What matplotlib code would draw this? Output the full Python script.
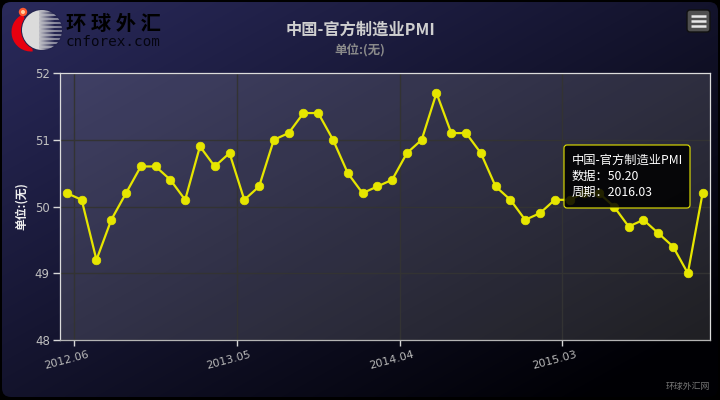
import numpy as np
import matplotlib
matplotlib.use("Agg")
import matplotlib.pyplot as plt
from matplotlib.patches import FancyBboxPatch, Circle, Wedge

plt.rcParams['font.family'] = ['Noto Sans CJK SC', 'DejaVu Sans']

title = "中国-官方制造业PMI"
unit_label = "单位:(无)"
periods = ["2012.06", "2012.07", "2012.08", "2012.09", "2012.10", "2012.11", "2012.12", "2013.01",
           "2013.02", "2013.03", "2013.04", "2013.05", "2013.06", "2013.07", "2013.08", "2013.09",
           "2013.10", "2013.11", "2013.12", "2014.01", "2014.02", "2014.03", "2014.04", "2014.05",
           "2014.06", "2014.07", "2014.08", "2014.09", "2014.10", "2014.11", "2014.12", "2015.01",
           "2015.02", "2015.03", "2015.04", "2015.05", "2015.06", "2015.07", "2015.08", "2015.09",
           "2015.10", "2015.12", "2016.02", "2016.03"]
pmi = [50.2, 50.1, 49.2, 49.8, 50.2, 50.6, 50.6, 50.4, 50.1, 50.9, 50.6, 50.8, 50.1, 50.3, 51.0, 51.1,
       51.4, 51.4, 51.0, 50.5, 50.2, 50.3, 50.4, 50.8, 51.0, 51.7, 51.1, 51.1, 50.8, 50.3, 50.1, 49.8,
       49.9, 50.1, 50.1, 50.2, 50.2, 50.0, 49.7, 49.8, 49.6, 49.4, 49.0, 50.2]
y_ticks = [48, 49, 50, 51, 52]
tick_every = 11
tooltip_lines = ["中国-官方制造业PMI", "数据：50.20", "周期：2016.03"]

W, H = 720, 400
fig = plt.figure(figsize=(7.2, 4.0), dpi=100, facecolor="black")

# background layer in pixel coordinates
bg = fig.add_axes([0, 0, 1, 1], zorder=0)
bg.set_xlim(0, W); bg.set_ylim(H, 0); bg.axis("off")

yy, xx = np.mgrid[0:1:200j, 0:1:360j]
t = np.clip(xx * 0.55 + yy * 0.55, 0, 1)[..., None]
start = np.array([42, 42, 92]) / 255
end = np.array([0, 0, 4]) / 255
grad = start * (1 - t) + end * t
im = bg.imshow(grad, extent=(0, W, H, 0), aspect="auto", zorder=1, interpolation="bilinear")
clip = FancyBboxPatch((2, 2), 716, 395, boxstyle="round,pad=0,rounding_size=9",
                      transform=bg.transData, fc="none", ec="none")
bg.add_patch(clip)
im.set_clip_path(clip)

# plot area sheen
L, R, T, B = 59.5, 710, 73, 340
sheen = np.zeros((80, 200, 4))
sheen[..., :3] = 1
sheen[..., 3] = 0.13
bg.imshow(sheen, extent=(L, R, B, T), aspect="auto", zorder=2)
bg.set_xlim(0, W); bg.set_ylim(H, 0)

# logo
bg.add_patch(Wedge((31, 32), 19.5, 85, 245, width=19.5, fc="#e8000f", ec="none", zorder=3))
bg.add_patch(Circle((42, 30), 21, fc="#23234f", ec="none", zorder=3))
gy, gx = np.mgrid[0:1:20j, 0:1:40j]
logo = np.ones((20, 40, 4))
logo[..., :3] = 0.86
stripes = (np.arange(20) % 2 == 0)[:, None]
logo[..., 3] = np.where(gx < 0.42, 1, np.where(stripes, 0.85 - (gx - 0.42) * 0.7, 0.9 - (gx - 0.42) * 2.2).clip(0, 1))
logo_im = bg.imshow(logo, extent=(22, 62, 50, 10), aspect="auto", zorder=4, interpolation="nearest")
lc = Circle((42, 30), 20, transform=bg.transData, fc="none", ec="none")
bg.add_patch(lc)
logo_im.set_clip_path(lc)
bg.add_patch(Circle((23, 12), 4.2, fc="#ff5a30", ec="none", zorder=5))
bg.add_patch(Circle((23, 12), 2, fc="#ffd0a0", ec="none", zorder=6))
bg.set_xlim(0, W); bg.set_ylim(H, 0)
bg.text(66, 23, "环 球 外 汇", color="black", fontsize=14.6, fontweight="bold", va="center", ha="left", zorder=6,
        fontfamily=["Noto Sans CJK SC", "DejaVu Sans"])
bg.text(66, 42, "cnforex.com", color="#050510", fontsize=10.4, va="center", ha="left", zorder=6,
        fontfamily="DejaVu Sans Mono")

# titles
bg.text(360, 29.5, title, color="#cfcfcf", fontsize=11.7, fontweight="bold", ha="center", va="center", zorder=6)
bg.text(360, 50.5, unit_label, color="#8a8a8a", fontsize=9, fontweight="bold", ha="center", va="center", zorder=6)
bg.text(688, 386, "环球外汇网", color="#777777", fontsize=6.4, ha="center", va="center", zorder=6)

# main plot
ax = fig.add_axes([L / W, 1 - B / H, (R - L) / W, (B - T) / H], zorder=1)
ax.patch.set_alpha(0)
x = np.arange(len(pmi))
ax.plot(x, pmi, color="#e6e600", lw=1.6, marker="o", ms=6.2, mec="#e6e600", mew=0.5, zorder=3, clip_on=False)
ax.set_xlim(-0.5, len(pmi) - 0.5)
ax.set_ylim(48, 52)
ax.set_yticks(y_ticks)
ax.set_yticklabels([str(v) for v in y_ticks], color="#c0c0c0", fontsize=8.5, fontfamily="DejaVu Sans")
tick_idx = x[::tick_every][:4]
ax.set_xticks(tick_idx + 0.5)
ax.set_xticklabels([])
for i in tick_idx:
    ax.annotate(periods[i], xy=(i + 0.5, 0), xycoords=ax.get_xaxis_transform(),
                xytext=(-5.8, -14.4), textcoords="offset points",
                rotation=15, ha="center", va="center", rotation_mode="anchor",
                color="#b8b8b8", fontsize=8, fontfamily="DejaVu Sans", annotation_clip=False)
ax.tick_params(axis="y", color="#d8d8d8", length=5, width=1, pad=2)
ax.tick_params(axis="x", color="#d8d8d8", length=4, width=1, pad=2)
ax.grid(True, color="#333333", lw=1, zorder=1)
ax.set_axisbelow(True)
for s in ax.spines.values():
    s.set_color("#dcdcdc"); s.set_linewidth(0.9)
ax.spines["bottom"].set_color("#b4b4b4")
ax.set_ylabel(unit_label, color="#f0f0f0", fontsize=8.5, fontweight="bold", labelpad=5)

# overlay: tooltip and menu
ov = fig.add_axes([0, 0, 1, 1], zorder=2)
ov.set_xlim(0, W); ov.set_ylim(H, 0); ov.axis("off"); ov.patch.set_alpha(0)
ov.add_patch(FancyBboxPatch((564, 145), 126, 63, boxstyle="round,pad=0,rounding_size=3",
                            fc=(0, 0, 0, 0.85), ec="#e6e600", lw=0.8))
for i, line in enumerate(tooltip_lines):
    ov.text(572, 160.5 + i * 16, line, color="white", fontsize=8.8, ha="left", va="center")
ov.add_patch(FancyBboxPatch((687, 10), 23, 22, boxstyle="round,pad=0,rounding_size=3",
                            fc="#505050", ec="#111111", lw=1))
for yb in (16, 21, 26):
    ov.plot([691, 706], [yb, yb], color="#e8e8e8", lw=1.8, solid_capstyle="butt")

fig.savefig("out.png", dpi=100, facecolor="black")
